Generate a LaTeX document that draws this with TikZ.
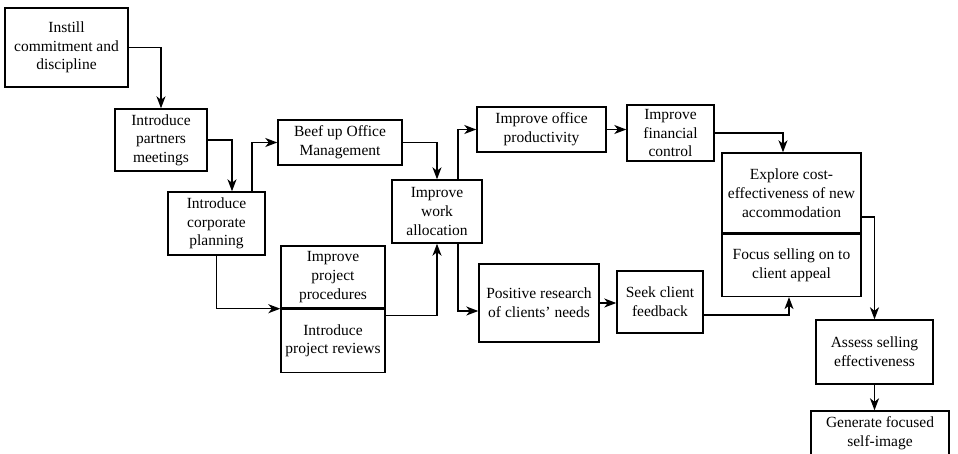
\documentclass[tikz,border=0pt]{standalone}
\usepackage{fontspec}
\setmainfont{Liberation Serif}
\usepackage{tikz}
\usetikzlibrary{positioning}
\usetikzlibrary{calc}
\usetikzlibrary{arrows.meta}

\tikzset{
    box/.style={draw, line width=1.4pt, align=center, inner sep=1pt, font=\fontsize{15.5}{18.7}\selectfont},
    link/.style={line width=1.4pt, -{Stealth[length=12pt, width=9pt, inset=3.5pt]}},
}

\begin{document}
\begin{tikzpicture}[x=1pt, y=-1pt]

    \useasboundingbox (0,0) rectangle (958,453);
    \clip (0,0) rectangle (958,453);

    \node [box, minimum width=123, minimum height=79] (instill) at (66.5,47.5) {Instill\\commitment and\\discipline};
    \node [box, minimum width=92, minimum height=62] (partners) at (161,140) {Introduce\\partners\\meetings};
    \node [box, minimum width=97, minimum height=63] (corporate) at (216.5,223.5) {Introduce\\corporate\\planning};
    \node [box, minimum width=124, minimum height=45] (beef) at (340,142.5) {Beef up Office\\Management};

    \node [box, minimum width=104, minimum height=62] (procedures) at (333,277) {Improve\\project\\procedures};
    \node [box, minimum width=104, minimum height=63, below=0pt of procedures] (reviews) {Introduce\\project reviews};

    \node [box, minimum width=90, minimum height=63] (allocation) at (437,211.5) {Improve\\work\\allocation};
    \node [box, minimum width=129, minimum height=45] (productivity) at (541.5,129.5) {Improve office\\productivity};
    \node [box, minimum width=87, minimum height=56] (financial) at (670.5,133) {Improve\\financial\\control};
    \node [box, minimum width=120, minimum height=78] (research) at (539,303) {Positive research\\of clients’ needs};
    \node [box, minimum width=86, minimum height=62] (feedback) at (660,302) {Seek client\\feedback};

    \node [box, minimum width=139, minimum height=80] (explore) at (791.5,193) {Explore cost-\\effectiveness of new\\accommodation};
    \node [box, minimum width=139, minimum height=62, below=0pt of explore] (focus) {Focus selling on to\\client appeal};

    \node [box, minimum width=117, minimum height=64] (assess) at (874.5,352) {Assess selling\\effectiveness};
    \node [box, minimum width=138, minimum height=45] (generate) at (880,433.5) {Generate focused\\self-image};

    \draw [link] (instill) -| (partners);
    \draw [link] (partners.east) -| ([xshift=15.5pt]corporate.north);
    \draw [link] ([xshift=35.5pt]corporate.north) |- (beef.west);
    \draw [link] (corporate.south) |- (reviews.north west);
    \draw [link] (beef.east) -| (allocation.north);
    \draw [link] ([yshift=-7pt]reviews.north east) -| (allocation.south);
    \draw [link] ([xshift=21pt]allocation.north) |- (productivity.west);
    \draw [link] ([xshift=21pt]allocation.south) |- ([yshift=-8pt]research.west);
    \draw [link] (productivity.east) -- (productivity.east -| financial.west);
    \draw [link] (research.east) -- (research.east -| feedback.west);
    \draw [link] (financial.east) -| ([xshift=-8.5pt]explore.north);
    \draw [link] ([yshift=-13pt]feedback.east) -| ([xshift=-2.5pt]focus.south);
    \draw [link] ([yshift=-24pt]explore.east) -| (assess.north);
    \draw [link] (assess.south) -- (assess.south |- generate.north);

\end{tikzpicture}
\end{document}
